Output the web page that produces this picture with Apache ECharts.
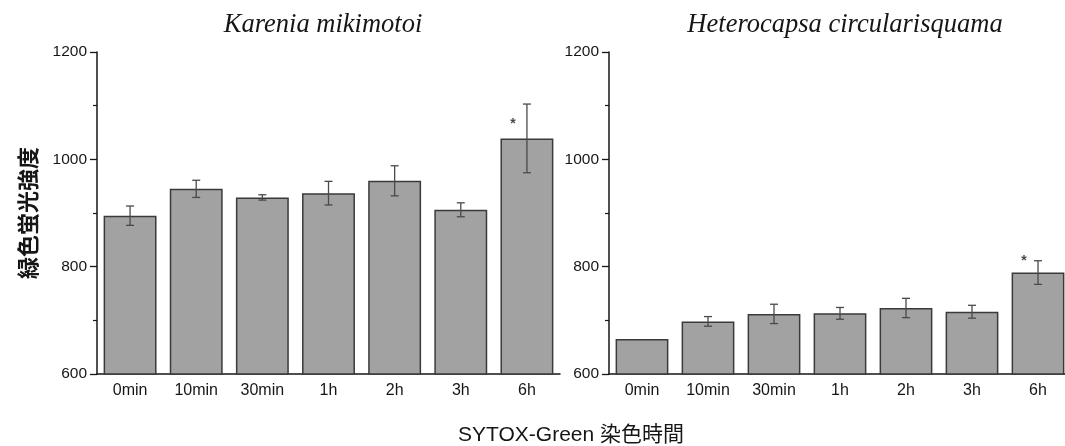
<!DOCTYPE html>
<html>
<head>
<meta charset="utf-8">
<script src="https://cdn.jsdelivr.net/npm/echarts@6/dist/echarts.min.js"></script>
<style>html,body{margin:0;padding:0;background:#fff;overflow:hidden;}#c{width:1080px;height:446px;}</style>
</head>
<body>
<div id="c"></div>
<script>
const categories = ['0min', '10min', '30min', '1h', '2h', '3h', '6h'];
const titleLeft = 'Karenia mikimotoi';
const titleRight = 'Heterocapsa circularisquama';
const yTicks = [600, 800, 1000, 1200];
const karenia = [895, 945, 929, 937, 960, 906, 1039];
const kareniaErr = [18, 16, 5, 22, 28, 13, 64];
const heterocapsa = [665, 698, 712, 713, 723, 716, 789];
const heterocapsaErr = [0, 9, 18, 11, 18, 12, 22];
const kareniaSig = [null, null, null, null, null, null, 1071];
const heterocapsaSig = [null, null, null, null, null, null, 816];
const yName = '緑色蛍光強度';
const xName = 'SYTOX-Green 染色時間';

const chart = echarts.init(document.getElementById('c'), null, {renderer: 'canvas'});
const fontLatin = '"Liberation Sans", Arial, sans-serif';
const fontCJK = '"Noto Sans CJK JP", "Liberation Sans", sans-serif';
const fontMixed = '"Liberation Sans", "Noto Sans CJK JP", sans-serif';
const ink = '#161616';

function errData(m, e) { return m.map((v, i) => [i, v - e[i], v + e[i], e[i]]); }
function sigData(s) { return s.map((v, i) => v == null ? null : [i, v]).filter(d => d); }

function errRender(params, api) {
  if (api.value(3) <= 0) return;
  const lo = api.coord([api.value(0), api.value(1)]);
  const hi = api.coord([api.value(0), api.value(2)]);
  const w = 4;
  const st = {stroke: '#4a4a4a', lineWidth: 1.3};
  return {type: 'group', children: [
    {type: 'line', shape: {x1: hi[0], y1: hi[1], x2: lo[0], y2: lo[1]}, style: st},
    {type: 'line', shape: {x1: hi[0] - w, y1: hi[1], x2: hi[0] + w, y2: hi[1]}, style: st},
    {type: 'line', shape: {x1: lo[0] - w, y1: lo[1], x2: lo[0] + w, y2: lo[1]}, style: st}
  ]};
}

function xAxis(idx) {
  return {
    type: 'category', gridIndex: idx, data: categories,
    axisLine: {lineStyle: {color: ink, width: 1.5}},
    axisTick: {alignWithLabel: true, length: 5, lineStyle: {color: ink, width: 1.5}},
    axisLabel: {color: ink, fontSize: 16, fontFamily: fontLatin, margin: 9}
  };
}
function yAxis(idx, withName) {
  const a = {
    type: 'value', gridIndex: idx, min: yTicks[0], max: yTicks[yTicks.length - 1], interval: 200,
    splitLine: {show: false},
    axisLine: {show: true, lineStyle: {color: ink, width: 1.5}},
    axisTick: {show: true, length: 7, lineStyle: {color: ink, width: 1.3}},
    minorTick: {show: true, splitNumber: 2, length: 4, lineStyle: {color: ink, width: 1.2}},
    axisLabel: {color: ink, fontSize: 15.5, fontFamily: fontLatin, margin: 10, formatter: v => String(v)}
  };
  if (withName) {
    Object.assign(a, {
      name: yName, nameLocation: 'middle', nameRotate: 90, nameGap: 58,
      nameTextStyle: {fontSize: 22, fontWeight: 'bold', color: ink, fontFamily: fontCJK}
    });
  }
  return a;
}
function barSeries(idx, data) {
  return {
    type: 'bar', xAxisIndex: idx, yAxisIndex: idx, data: data, barCategoryGap: '20%',
    itemStyle: {color: '#a2a2a2', borderColor: '#3a3a3a', borderWidth: 1.5}, silent: true
  };
}
function errSeries(idx, m, e) {
  return {type: 'custom', xAxisIndex: idx, yAxisIndex: idx, data: errData(m, e), renderItem: errRender, z: 5, silent: true};
}
function sigSeries(idx, s) {
  return {
    type: 'scatter', xAxisIndex: idx, yAxisIndex: idx, data: sigData(s), symbolSize: 0, z: 6, silent: true,
    label: {show: true, formatter: '*', position: 'inside', offset: [-14, 3], fontSize: 14, fontWeight: 'bold', color: ink, fontFamily: fontLatin}
  };
}
const titleStyle = {fontFamily: '"Liberation Serif", "Times New Roman", serif', fontStyle: 'italic', fontWeight: 'normal', fontSize: 26.5, color: ink};

chart.setOption({
  animation: false,
  backgroundColor: '#fff',
  title: [
    {text: titleLeft, left: 318, top: 7, textAlign: 'center', textStyle: titleStyle},
    {text: titleRight, left: 840, top: 7, textAlign: 'center', textStyle: titleStyle}
  ],
  grid: [
    {left: 97, top: 52, width: 463, height: 322},
    {left: 609, top: 52, width: 462, height: 322}
  ],
  xAxis: [xAxis(0), xAxis(1)],
  yAxis: [yAxis(0, true), yAxis(1, false)],
  series: [
    barSeries(0, karenia), errSeries(0, karenia, kareniaErr), sigSeries(0, kareniaSig),
    barSeries(1, heterocapsa), errSeries(1, heterocapsa, heterocapsaErr), sigSeries(1, heterocapsaSig)
  ],
  graphic: [
    {type: 'text', x: 571, y: 435,
     style: {text: xName, fontSize: 21, fontFamily: fontMixed, fill: ink, align: 'center', verticalAlign: 'middle'}}
  ]
});
</script>
</body>
</html>
